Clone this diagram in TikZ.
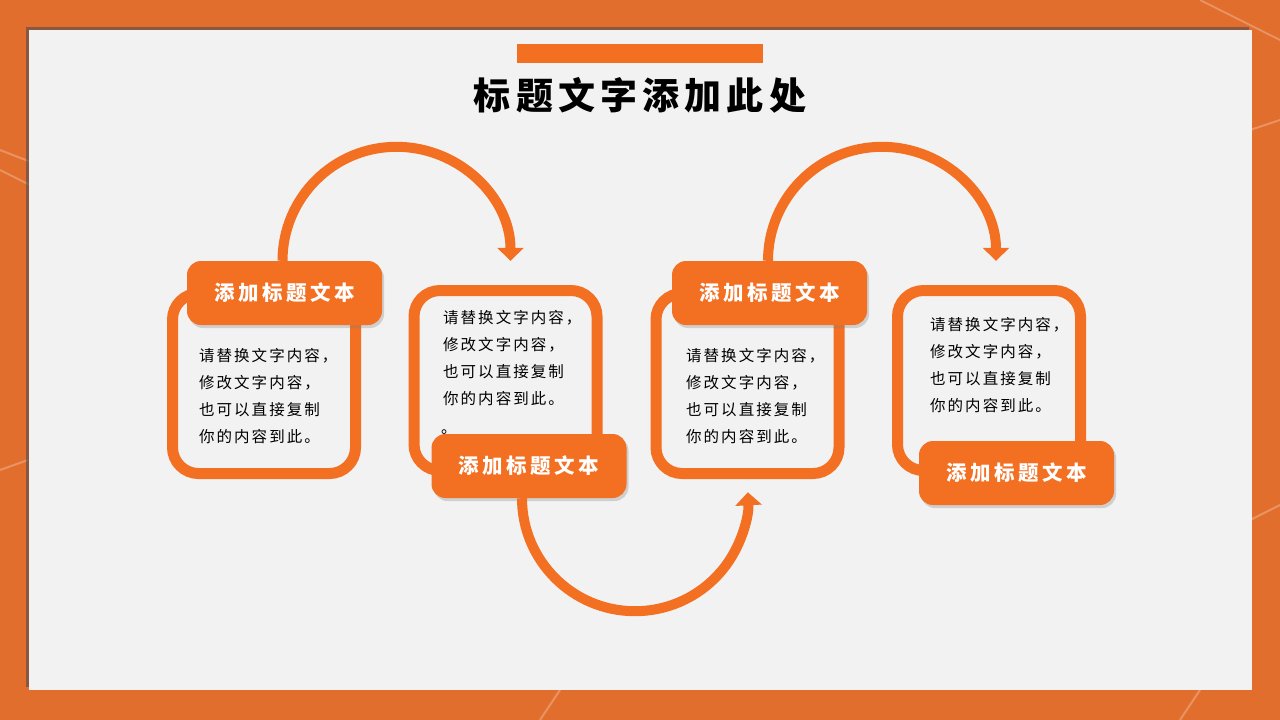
\documentclass[tikz,border=0pt]{standalone}
\usepackage{fontspec}
\usetikzlibrary{arrows.meta,shadows}
\newfontfamily\titlefont[LetterSpace=14]{Noto Sans CJK SC}
\newfontfamily\tagfont[LetterSpace=17]{Noto Sans CJK SC}
\newfontfamily\bodyfont[LetterSpace=13]{Noto Sans CJK SC}
\definecolor{brand}{RGB}{243,111,33}
\definecolor{paper}{RGB}{242,242,242}
\definecolor{frame}{RGB}{226,110,46}

\begin{document}
\begin{tikzpicture}[x=1pt,y=-1pt,
			card/.style = {shape=rectangle, draw=brand, line width=11pt,
				fill=paper, rounded corners=26pt, inner sep=0pt,
				minimum width=183pt, minimum height=180pt,
				drop shadow={opacity=.3, shadow xshift=2pt, shadow yshift=-3pt}},
			tag/.style = {shape=rectangle, fill=brand, text=white,
				rounded corners=14pt, inner sep=0pt,
				minimum width=195pt, minimum height=64pt,
				font=\tagfont\bfseries\fontsize{20.5}{22}\selectfont,
				drop shadow={opacity=.3, shadow xshift=2pt, shadow yshift=-3pt}},
			body/.style = {align=left, inner sep=0pt, anchor=west,
				font=\bodyfont\fontsize{15.5}{27}\selectfont},
			flow/.style = {draw=brand, line width=10pt,
				-{Triangle[width=26pt,length=13pt]}},
			streak/.style = {draw=white, opacity=.25, line width=2pt}]
			\useasboundingbox (0,0) rectangle (1280,720);
			\fill[frame] (0,0) rectangle (1280,720);
			\draw[streak] (0,150) -- (90,185);
			\draw[streak] (0,170) -- (90,215);
			\draw[streak] (0,470) -- (28,460);
			\draw[streak] (1200,0) -- (1280,40);
			\draw[streak] (1250,130) -- (1280,120);
			\draw[streak] (1250,520) -- (1280,505);
			\draw[streak] (540,720) -- (560,690);
			\draw[streak] (1180,720) -- (1200,690);
			\node[fill=paper, inner sep=0pt, minimum width=1223pt, minimum height=660pt,
				drop shadow={opacity=.6, shadow xshift=-3pt, shadow yshift=3pt, fill=black!70}]
				(panel) at (640,360) {};
			\node[fill=brand, inner sep=0pt, minimum width=246pt, minimum height=19pt]
				(bar) at (640,53.5) {};
			\node[inner sep=0pt, font=\titlefont\bfseries\fontsize{37}{40}\selectfont]
				(title) at (640,95) {标题文字添加此处};

			\node[card] (card1) at (264,383.5) {};
			\node[card] (card2) at (505.5,380.5) {};
			\node[card] (card3) at (747.5,383.5) {};
			\node[card] (card4) at (989,380.5) {};

			\node[body] (txt1) at (199,396.5) {请替换文字内容，\\修改文字内容，\\也可以直接复制\\你的内容到此。};
			\node[body] (txt2) at (443,358.5) {请替换文字内容，\\修改文字内容，\\也可以直接复制\\你的内容到此。};
			\node[body] (dot2) at (441,432) {。};
			\node[body] (txt3) at (686,396.5) {请替换文字内容，\\修改文字内容，\\也可以直接复制\\你的内容到此。};
			\node[body] (txt4) at (930,365.5) {请替换文字内容，\\修改文字内容，\\也可以直接复制\\你的内容到此。};

			\node[tag] (tag1) at (284.5,293) {添加标题文本};
			\node[tag] (tag2) at (529,466) {添加标题文本};
			\node[tag] (tag3) at (769.5,293) {添加标题文本};
			\node[tag] (tag4) at (1016.5,473) {添加标题文本};

			\draw[flow] ([xshift=-2pt]tag1.north) arc[start angle=180, end angle=0, radius=114pt];
			\draw[flow] ([xshift=-7pt]tag2.south) arc[start angle=180, end angle=363, radius=113pt];
			\draw[flow] ([xshift=-1.5pt]tag3.north) arc[start angle=180, end angle=0, radius=114pt];
		\end{tikzpicture}
\end{document}
